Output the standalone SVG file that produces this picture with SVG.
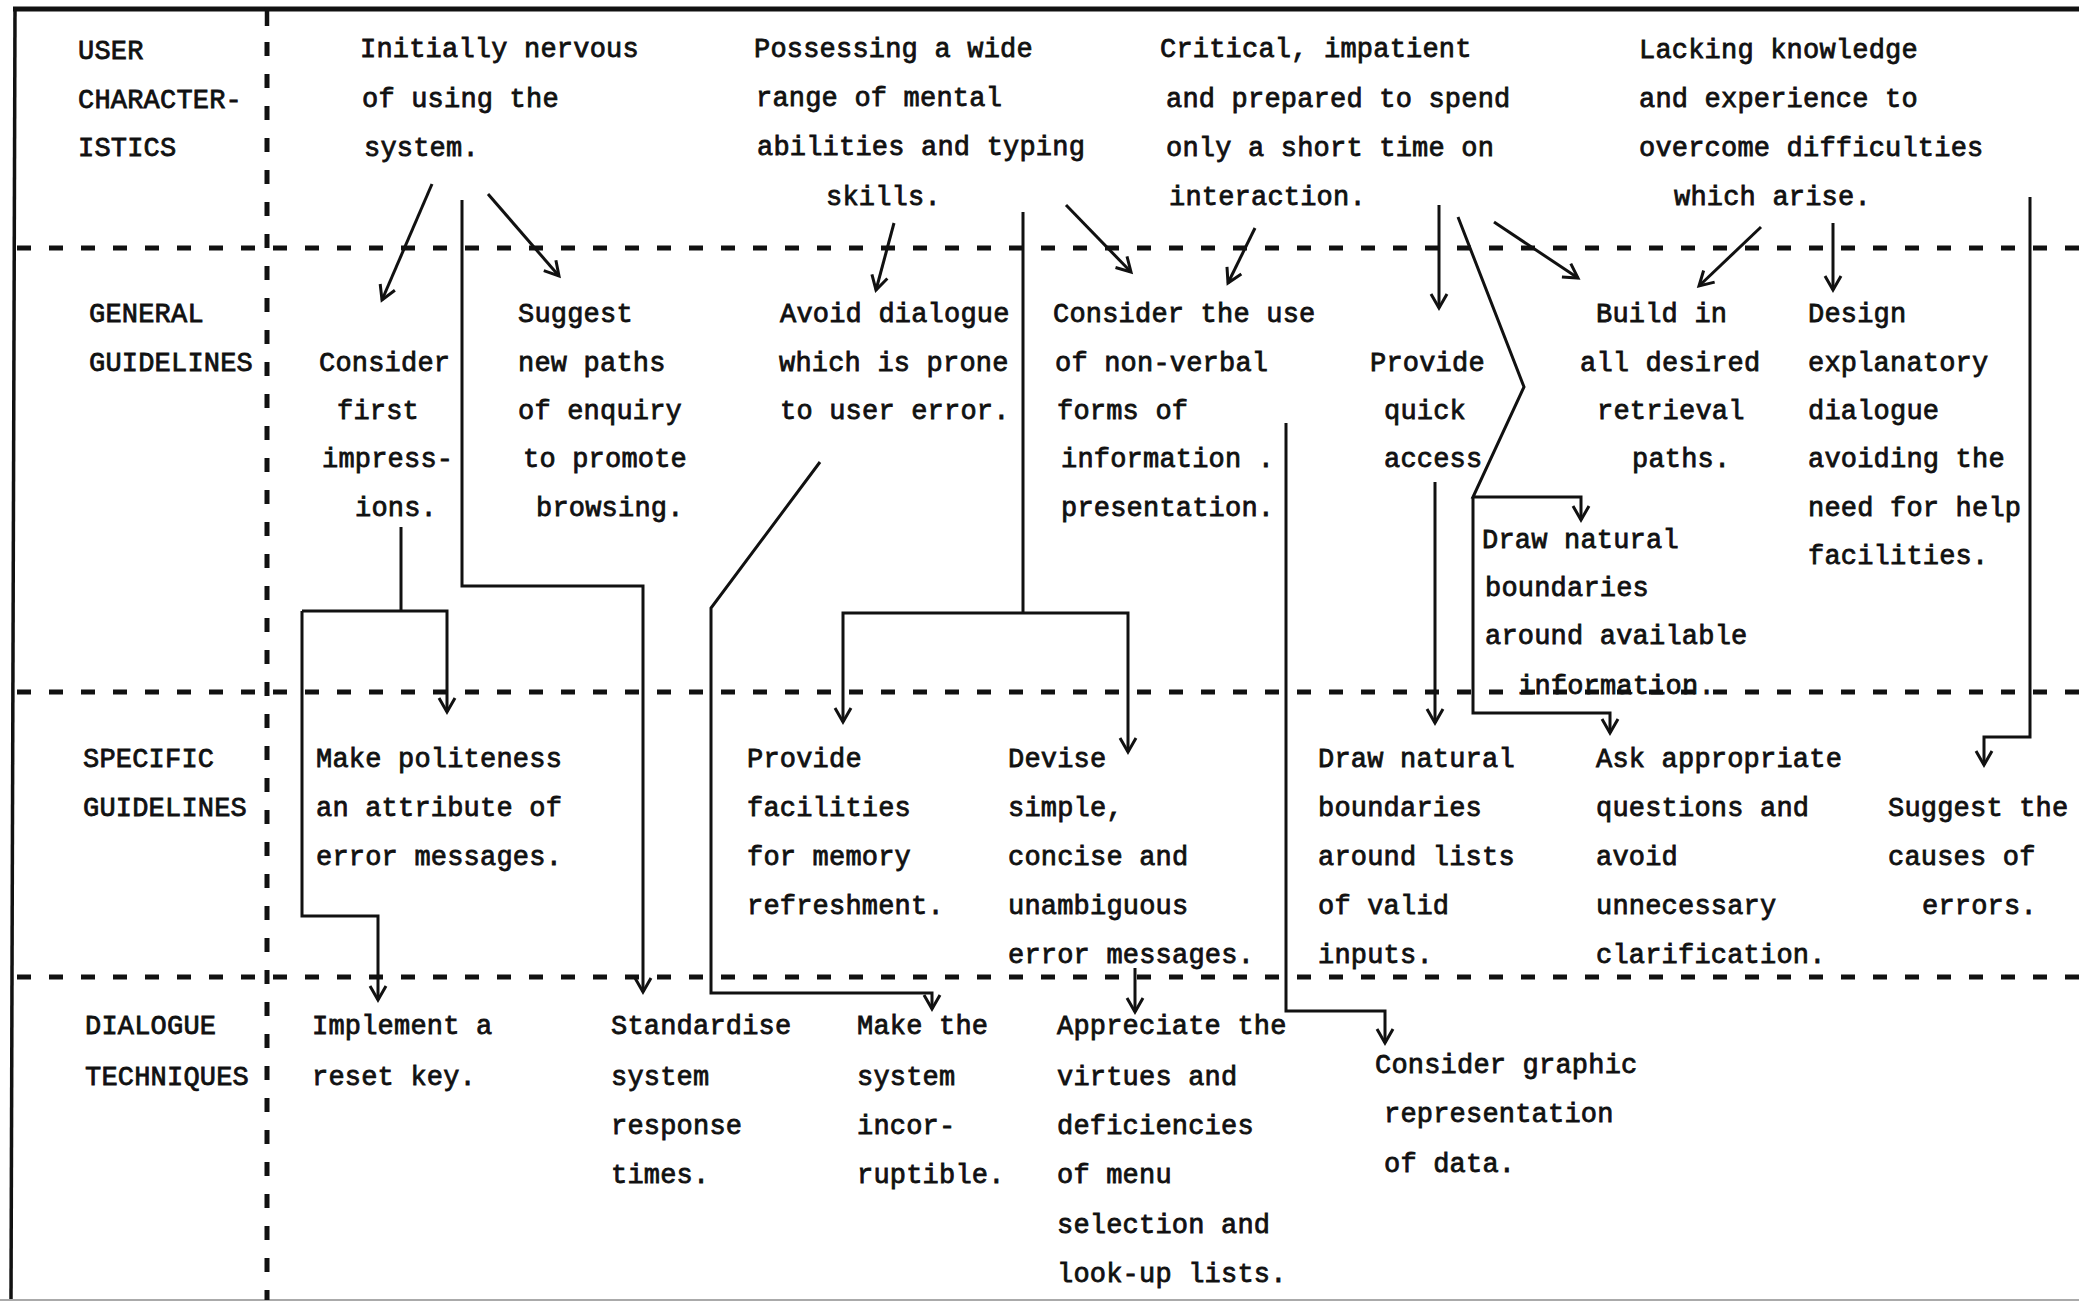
<svg xmlns="http://www.w3.org/2000/svg" width="2079" height="1302" viewBox="0 0 2079 1302">
<style>
  text { font-family: "Liberation Mono", "DejaVu Sans Mono", monospace; font-size: 27px; letter-spacing: 0.2px; fill: #111; stroke: #111; stroke-width: 0.8px; }
  .grid-dash { stroke: #111; stroke-width: 5; stroke-dasharray: 14 18; fill: none; }
  .border { stroke: #111; fill: none; }
  .conn { stroke: #111; stroke-width: 3; fill: none; stroke-linejoin: miter; }
  .arr { marker-end: url(#ah); }
</style>
<defs>
  <marker id="ah" viewBox="-16 -10 20 20" refX="0" refY="0" markerWidth="20" markerHeight="20" markerUnits="userSpaceOnUse" orient="auto" overflow="visible">
    <path d="M-14,-8 L0,0 L-14,8" fill="none" stroke="#111" stroke-width="3" stroke-linejoin="miter"/>
  </marker>
</defs>
<rect x="0" y="0" width="2079" height="1302" fill="#fff"/>

<g id="grid">
  <line class="border" x1="13" y1="9" x2="2079" y2="9" stroke-width="5"/>
  <line class="border" x1="15" y1="8" x2="11" y2="1300" stroke-width="3.5"/>
  <line x1="0" y1="1300" x2="2079" y2="1300" stroke="#aaa" stroke-width="2"/>
  <line class="border" x1="267" y1="8" x2="267" y2="26" stroke-width="4.5"/>
  <line class="grid-dash" x1="267" y1="42" x2="267" y2="1300"/>
  <line class="grid-dash" x1="17" y1="248" x2="2079" y2="248"/>
  <line class="grid-dash" x1="17" y1="692" x2="2079" y2="692"/>
  <line class="grid-dash" x1="17" y1="977" x2="2079" y2="977"/>
</g>

<g id="label-user-characteristics">
  <text x="78" y="59">USER</text>
  <text x="78" y="108">CHARACTER-</text>
  <text x="78" y="156">ISTICS</text>
</g>
<g id="label-general-guidelines">
  <text x="89" y="322">GENERAL</text>
  <text x="89" y="371">GUIDELINES</text>
</g>
<g id="label-specific-guidelines">
  <text x="83" y="767">SPECIFIC</text>
  <text x="83" y="816">GUIDELINES</text>
</g>
<g id="label-dialogue-techniques">
  <text x="85" y="1034">DIALOGUE</text>
  <text x="85" y="1085">TECHNIQUES</text>
</g>

<g id="uc-nervous">
  <text x="360" y="57">Initially nervous</text>
  <text x="362" y="107">of using the</text>
  <text x="364" y="156">system.</text>
</g>
<g id="uc-abilities">
  <text x="754" y="57">Possessing a wide</text>
  <text x="756" y="106">range of mental</text>
  <text x="757" y="155">abilities and typing</text>
  <text x="826" y="205">skills.</text>
</g>
<g id="uc-critical">
  <text x="1160" y="57">Critical, impatient</text>
  <text x="1166" y="107">and prepared to spend</text>
  <text x="1166" y="156">only a short time on</text>
  <text x="1169" y="205">interaction.</text>
</g>
<g id="uc-lacking">
  <text x="1639" y="58">Lacking knowledge</text>
  <text x="1639" y="107">and experience to</text>
  <text x="1639" y="156">overcome difficulties</text>
  <text x="1674" y="205">which arise.</text>
</g>

<g id="gg-first-impressions">
  <text x="319" y="371">Consider</text>
  <text x="337" y="419">first</text>
  <text x="322" y="467">impress-</text>
  <text x="355" y="516">ions.</text>
</g>
<g id="gg-new-paths">
  <text x="518" y="322">Suggest</text>
  <text x="518" y="371">new paths</text>
  <text x="518" y="419">of enquiry</text>
  <text x="523" y="467">to promote</text>
  <text x="536" y="516">browsing.</text>
</g>
<g id="gg-avoid-dialogue">
  <text x="780" y="322">Avoid dialogue</text>
  <text x="779" y="371">which is prone</text>
  <text x="780" y="419">to user error.</text>
</g>
<g id="gg-non-verbal">
  <text x="1053" y="322">Consider the use</text>
  <text x="1055" y="371">of non-verbal</text>
  <text x="1057" y="419">forms of</text>
  <text x="1061" y="467">information .</text>
  <text x="1061" y="516">presentation.</text>
</g>
<g id="gg-quick-access">
  <text x="1370" y="371">Provide</text>
  <text x="1384" y="419">quick</text>
  <text x="1384" y="467">access</text>
</g>
<g id="gg-retrieval-paths">
  <text x="1596" y="322">Build in</text>
  <text x="1580" y="371">all desired</text>
  <text x="1597" y="419">retrieval</text>
  <text x="1632" y="467">paths.</text>
</g>
<g id="gg-explanatory">
  <text x="1808" y="322">Design</text>
  <text x="1808" y="371">explanatory</text>
  <text x="1808" y="419">dialogue</text>
  <text x="1808" y="467">avoiding the</text>
  <text x="1808" y="516">need for help</text>
  <text x="1808" y="564">facilities.</text>
</g>
<g id="gg-boundaries-information">
  <text x="1482" y="548">Draw natural</text>
  <text x="1485" y="596">boundaries</text>
  <text x="1485" y="644">around available</text>
  <text x="1518" y="694">information.</text>
</g>

<g id="sg-politeness">
  <text x="316" y="767">Make politeness</text>
  <text x="316" y="816">an attribute of</text>
  <text x="316" y="865">error messages.</text>
</g>
<g id="sg-memory">
  <text x="747" y="767">Provide</text>
  <text x="747" y="816">facilities</text>
  <text x="747" y="865">for memory</text>
  <text x="747" y="914">refreshment.</text>
</g>
<g id="sg-error-messages">
  <text x="1008" y="767">Devise</text>
  <text x="1008" y="816">simple,</text>
  <text x="1008" y="865">concise and</text>
  <text x="1008" y="914">unambiguous</text>
  <text x="1008" y="963">error messages.</text>
</g>
<g id="sg-boundaries-lists">
  <text x="1318" y="767">Draw natural</text>
  <text x="1318" y="816">boundaries</text>
  <text x="1318" y="865">around lists</text>
  <text x="1318" y="914">of valid</text>
  <text x="1318" y="963">inputs.</text>
</g>
<g id="sg-questions">
  <text x="1596" y="767">Ask appropriate</text>
  <text x="1596" y="816">questions and</text>
  <text x="1596" y="865">avoid</text>
  <text x="1596" y="914">unnecessary</text>
  <text x="1596" y="963">clarification.</text>
</g>
<g id="sg-causes">
  <text x="1888" y="816">Suggest the</text>
  <text x="1888" y="865">causes of</text>
  <text x="1922" y="914">errors.</text>
</g>

<g id="dt-reset-key">
  <text x="312" y="1034">Implement a</text>
  <text x="312" y="1085">reset key.</text>
</g>
<g id="dt-response-times">
  <text x="611" y="1034">Standardise</text>
  <text x="611" y="1085">system</text>
  <text x="611" y="1134">response</text>
  <text x="611" y="1183">times.</text>
</g>
<g id="dt-incorruptible">
  <text x="857" y="1034">Make the</text>
  <text x="857" y="1085">system</text>
  <text x="857" y="1134">incor-</text>
  <text x="857" y="1183">ruptible.</text>
</g>
<g id="dt-menu">
  <text x="1057" y="1034">Appreciate the</text>
  <text x="1057" y="1085">virtues and</text>
  <text x="1057" y="1134">deficiencies</text>
  <text x="1057" y="1183">of menu</text>
  <text x="1057" y="1233">selection and</text>
  <text x="1057" y="1282">look-up lists.</text>
</g>
<g id="dt-graphic">
  <text x="1375" y="1073">Consider graphic</text>
  <text x="1384" y="1122">representation</text>
  <text x="1384" y="1172">of data.</text>
</g>

<g id="connectors">
  <path class="conn arr" d="M432,184 L382,300"/>
  <path class="conn arr" d="M462,200 V586 H643 V992"/>
  <path class="conn arr" d="M488,194 L559,276"/>
  <path class="conn" d="M401,527 V611"/>
  <path class="conn arr" d="M302,611 H447 V712"/>
  <path class="conn arr" d="M302,611 V916 H378 V1000"/>
  <path class="conn arr" d="M894,223 L876,290"/>
  <path class="conn" d="M1023,212 V613"/>
  <path class="conn arr" d="M1023,613 H843 V722"/>
  <path class="conn arr" d="M1023,613 H1128 V752"/>
  <path class="conn arr" d="M1066,205 L1131,272"/>
  <path class="conn arr" d="M1255,228 L1228,283"/>
  <path class="conn arr" d="M1439,205 V308"/>
  <path class="conn arr" d="M1458,217 L1524,387 L1473,497 H1581 V520"/>
  <path class="conn arr" d="M1473,497 V713 H1610 V733"/>
  <path class="conn arr" d="M1494,222 L1578,278"/>
  <path class="conn arr" d="M1761,227 L1699,286"/>
  <path class="conn arr" d="M1833,223 V290"/>
  <path class="conn arr" d="M2030,197 V737 H1984 V765"/>
  <path class="conn arr" d="M820,462 L711,608 V993 H932 V1009"/>
  <path class="conn arr" d="M1286,423 V1011 H1385 V1043"/>
  <path class="conn arr" d="M1435,482 V723"/>
  <path class="conn arr" d="M1135,968 V1012"/>
</g>
</svg>
